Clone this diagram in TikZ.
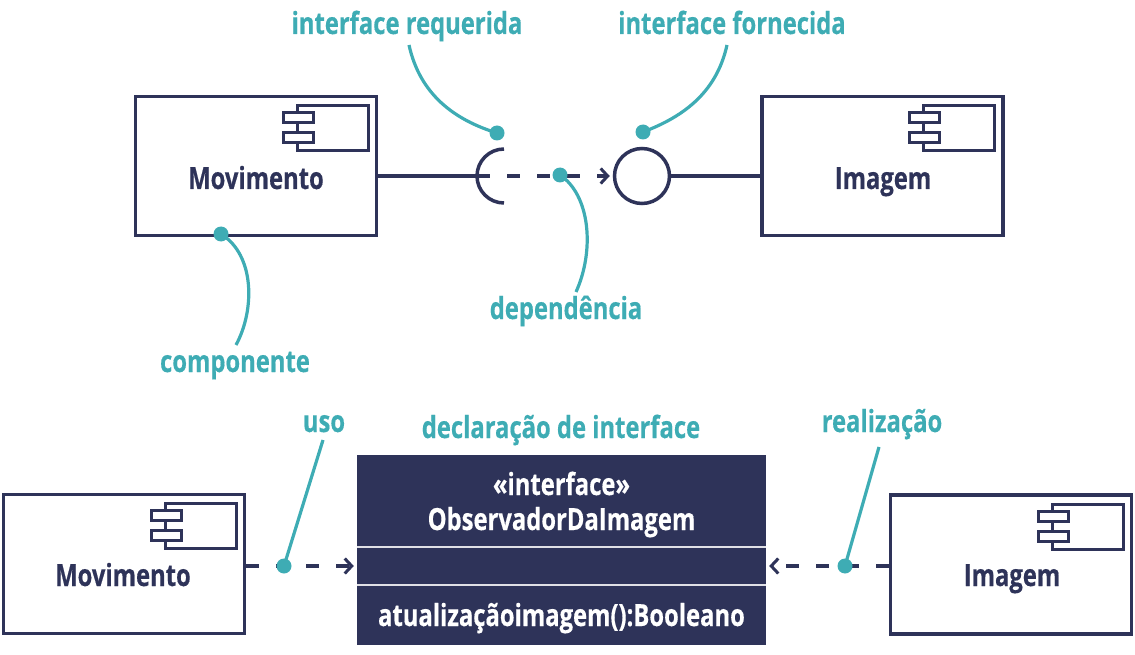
\documentclass[tikz,border=0pt]{standalone}
\usepackage{fontspec}
\setmainfont{Open Sans}[FakeStretch=0.78, BoldFeatures={FakeBold=0.4}]
\usetikzlibrary{arrows.meta}
\definecolor{navy}{RGB}{46,51,89}
\definecolor{tealc}{RGB}{62,172,180}
\newcommand{\compicon}[1]{%
  \draw[navy, line width=3pt] ([shift={(-81,11)}]#1.north east) rectangle ([shift={(-10,56)}]#1.north east);
  \draw[navy, line width=3pt, fill=white] ([shift={(-95,18)}]#1.north east) rectangle ([shift={(-65,28)}]#1.north east);
  \draw[navy, line width=3pt, fill=white] ([shift={(-95,38)}]#1.north east) rectangle ([shift={(-65,48)}]#1.north east);
}
\begin{document}
\begin{tikzpicture}[x=1pt,y=-1pt,
  comp/.style={draw=navy, line width=3.8pt, minimum width=241pt, minimum height=139pt, inner sep=0pt},
  basefont/.style={font=\bfseries\fontsize{30.5}{33}\selectfont, inner sep=0pt, anchor=base},
  cname/.style={basefont, text=navy},
  lbl/.style={basefont, text=tealc},
  itxt/.style={basefont, text=white},
  wire/.style={draw=navy, line width=3.5pt},
  dashwire/.style={draw=navy, line width=3.5pt, dash pattern=on 13pt off 17pt},
  tip/.style={-{Straight Barb[length=7pt,width=15pt,line width=3pt]}},
  callout/.style={draw=tealc, line width=3.2pt},
  dot/.style={circle, fill=tealc, minimum size=15pt, inner sep=0pt}
]
\useasboundingbox (0,0) rectangle (1135,655);

% ---------- top row ----------
\node[comp] (mov1) at (256,166) {};
\node[cname] (mov1t) at (256,189) {Movimento};
\compicon{mov1}
\node[comp] (img1) at (882.5,166) {};
\node[cname] (img1t) at (883,189) {Imagem};
\compicon{img1}

\coordinate (sockc) at (504,176);
\coordinate (sock) at (477,176);
\draw[wire] (sockc) ++(0,-27) arc[start angle=270, end angle=90, radius=27];
\node[circle, draw=navy, line width=3.5pt, minimum size=55pt, inner sep=0pt] (lol) at (642,176) {};

\draw[wire] (mov1.east |- sock) -- (sock);
\draw[dashwire, tip] (sock) -- ([xshift=-3pt]lol.west);
\draw[wire] (lol.east) -- (img1.west |- lol.east);

% callouts top
\node[lbl] (lreq) at (407,34) {interface requerida};
\node[lbl] (lfor) at (732,34) {interface fornecida};
\node[lbl] (ldep) at (566,319) {dependência};
\node[lbl] (lcom) at (235,372) {componente};

\node[dot] (dreq) at (497,133) {};
\node[dot] (dfor) at (643,132) {};
\node[dot] (ddep) at (560,175) {};
\node[dot] (dcom) at (221,234) {};

\coordinate (creq) at (409,45);
\coordinate (cfor) at (727,45);
\coordinate (cdep) at (576,292);
\coordinate (ccom) at (236,345);
\draw[callout] (creq) .. controls (420,95) and (455,120) .. (dreq.center);
\draw[callout] (cfor) .. controls (716,95) and (680,118) .. (dfor.center);
\draw[callout] (ddep.center) .. controls (590,195) and (595,250) .. (cdep);
\draw[callout] (dcom.center) .. controls (255,255) and (255,310) .. (ccom);

% ---------- bottom row ----------
\node[comp] (mov2) at (124,564) {};
\node[cname] (mov2t) at (123,586) {Movimento};
\compicon{mov2}
\node[comp] (img2) at (1011,564.5) {};
\node[cname] (img2t) at (1012,586) {Imagem};
\compicon{img2}

\node[fill=navy, minimum width=409pt, minimum height=190pt, inner sep=0pt] (ifc) at (561.5,550) {};
\draw[white!85!navy, line width=2pt] (ifc.west |- 0,547) -- (ifc.east |- 0,547);
\draw[white!85!navy, line width=2pt] (ifc.west |- 0,585) -- (ifc.east |- 0,585);
\node[itxt] (ifc1) at (561.5,495) {«interface»};
\node[itxt] (ifc2) at (561.5,530) {ObservadorDaImagem};
\node[itxt] (ifc3) at (561.5,626) {atualizaçãoimagem():Booleano};

\coordinate (uleft) at (mov2.east |- 0,566);
\coordinate (rright) at (img2.west |- 0,566);
\draw[dashwire, tip] (uleft) -- ([xshift=-3pt]ifc.west |- uleft);
\draw[dashwire, tip] (rright) -- ([xshift=3pt]ifc.east |- rright);

\node[lbl] (luso) at (324,432) {uso};
\node[lbl] (ldec) at (561,438) {declaração de interface};
\node[lbl] (lrea) at (882,432) {realização};

\node[dot] (duso) at (284,566) {};
\node[dot] (drea) at (845,566) {};
\coordinate (cuso) at (323,440);
\coordinate (crea) at (879,447);
\draw[callout] (duso.center) -- (cuso);
\draw[callout] (drea.center) -- (crea);
\end{tikzpicture}
\end{document}
